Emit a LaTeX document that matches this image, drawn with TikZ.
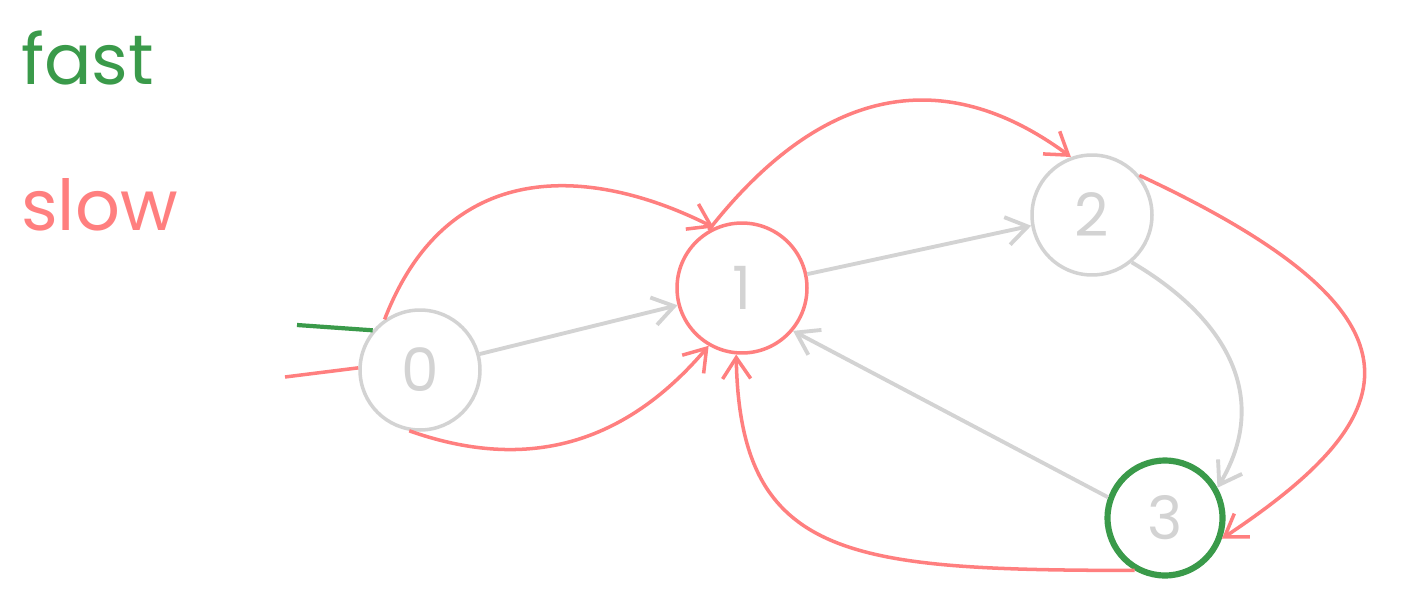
\documentclass[tikz,border=0pt]{standalone}
\usepackage{fontspec}
\setmainfont{Poppins}
\usetikzlibrary{arrows.meta}
\definecolor{gr}{HTML}{D3D3D3}
\definecolor{rd}{HTML}{FF7F7F}
\definecolor{gn}{HTML}{3A9A4A}
\begin{document}
\begin{tikzpicture}[x=0.02cm,y=-0.02cm,
  st/.style={circle,draw=gr,line width=2pt,minimum size=2.4cm,font=\fontsize{34}{34}\selectfont,text=gr},
  ge/.style={draw=gr,line width=2.2pt,-{Straight Barb[length=12pt,width=16pt]}},
  re/.style={draw=rd,line width=2pt,-{Straight Barb[length=12pt,width=16pt]}},
  lab/.style={font=\fontsize{40}{40}\selectfont,anchor=west}]
\useasboundingbox (0,0) rectangle (1406,605);
\node[lab,text=gn] (fast) at (15,58) {fast};
\node[lab,text=rd] (slow) at (15,205) {slow};
\node[st] (n0) at (420,370) {0};
\node[st,draw=rd,minimum size=2.6cm] (n1) at (742,288) {1};
\node[st] (n2) at (1092,215) {2};
\node[st,draw=gn,line width=3.5pt,minimum size=2.3cm] (n3) at (1165,518) {3};
\coordinate (gs) at (297,325);
\coordinate (rs) at (285,377);
\draw[gn,line width=2.4pt] (gs) -- (n0.140);
\draw[rd,line width=2pt] (rs) -- (n0.178);
% gray
\draw[ge] (n0.15) -- (n1.195);
\draw[ge] (n1.12) -- (n2.190);
\draw[ge] (n2.-50) .. controls (1230,320) and (1270,400) .. (n3.30);
\draw[ge] (n3.160) -- (n1.-40);
% red
\draw[re] (n0.125) .. controls (450,150) and (600,170) .. (n1.115);
\draw[re] (n0.-100) .. controls (520,470) and (620,450) .. (n1.-120);
\draw[re] (n1.120) .. controls (850,50) and (980,90) .. (n2.110);
\draw[re] (n2.40) .. controls (1450,320) and (1400,420) .. (n3.-20);
\draw[re] (n3.-120) .. controls (850,570) and (740,560) .. (n1.-95);
\end{tikzpicture}
\end{document}
